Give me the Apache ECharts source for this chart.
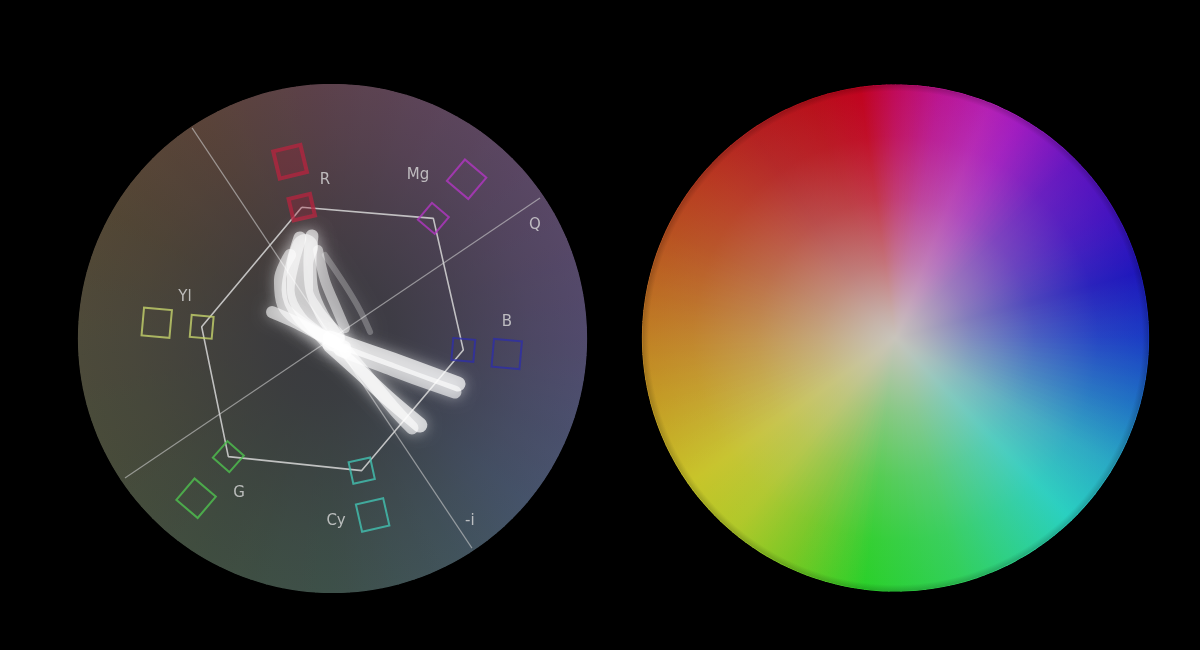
<!DOCTYPE html>
<html>
<head>
<meta charset="utf-8">
<script src="https://cdn.jsdelivr.net/npm/echarts@6/dist/echarts.min.js"></script>
<style>
html,body{margin:0;padding:0;background:#000;}
#chart{width:1200px;height:650px;}
</style>
</head>
<body>
<div id="chart"></div>
<script>
// ---------- DATA (scope units: % of scope radius, x right, y up) ----------
const targetNames   = ['R', 'Mg', 'B', 'Cy', 'G', 'Yl'];
const innerTargets  = [[-12.1, 51.7], [39.7, 47.3], [51.5, -4.5], [11.5, -52.0], [-41.0, -46.5], [-51.5, 4.6]];
const outerTargets  = [[-16.7, 69.6], [52.8, 62.7], [68.6, -6.1], [15.8, -69.5], [-53.7, -62.9], [-69.2, 6.2]];
const targetColors  = ['#b0253e', '#b236c2', '#2e2ea6', '#42c2b2', '#4fc24f', '#c4d26c'];

const axisQ = [[-81.7, -54.9], [81.7, 55.3]];
const axisI = [[-55.3, 82.9], [54.9, -82.5]];

const labelTexts = ['R', 'Mg', 'Q', 'Yl', 'B', 'G', 'Cy', '-i'];
const labelPos   = [[-3.0, 62.4], [33.7, 64.4], [79.7, 44.7], [-58.1, 16.3], [68.7, 6.5], [-36.8, -60.8], [1.4, -71.7], [54.1, -71.9]];

// trace strands
const traceBand  = [[-10.8, 36.0], [-12.8, 28.9], [-12.8, 19.1], [-8.1, 9.3], [-0.2, 0.2]];
const traceU1    = [[-12.8, 39.6], [-15.6, 30.1], [-17.5, 19.1], [-12.8, 8.1], [-3.0, 0.2], [4.9, -5.3]];
const traceU2    = [[-8.1, 40.4], [-8.9, 30.1], [-8.1, 19.1], [-4.1, 9.3], [2.2, 0.2]];
const traceU3    = [[-16.7, 32.9], [-20.7, 23.0], [-19.5, 13.2], [-10.8, 5.3], [1.0, -1.4]];
const traceU4    = [[-5.7, 34.8], [-3.0, 23.0], [1.0, 13.2], [4.9, 4.1]];
const traceFaint = [[-3.0, 32.9], [4.9, 21.1], [10.8, 11.2], [14.8, 2.6]];
const traceLeft  = [[-23.8, 10.4], [-14.8, 6.5], [-4.9, 1.4], [4.9, -3.3]];
const traceR1    = [[-1.0, 0.2], [14.8, -5.3], [32.5, -11.6], [49.4, -17.9]];
const traceR2    = [[3.0, -4.5], [18.7, -10.4], [34.4, -16.3], [48.2, -21.1]];
const traceL1    = [[-1.0, -2.6], [10.8, -13.2], [22.6, -24.2], [34.4, -34.1]];
const traceL2    = [[4.9, -4.5], [14.8, -16.3], [24.6, -28.1], [31.3, -35.2]];

// rim colours of the scope background (angle in degrees, CCW from right)
const scopeStopAngles = [0, 20, 45, 70, 95, 120, 150, 180, 210, 240, 270, 300, 320, 345, 360];
const scopeStopColors = ['#514a6c', '#564868', '#5a4662', '#5c4458', '#5c4149', '#5a4339', '#534634', '#4d4a3a', '#474b3a', '#3f4d40', '#3d5049', '#41535c', '#45536a', '#4c4e6d', '#514a6c'];

// rim colours of the colour wheel
const wheelStopAngles = [0, 15, 30, 45, 60, 68, 80, 90, 98, 110, 125, 140, 155, 170, 180, 195, 215, 230, 245, 263, 285, 300, 314, 330, 345, 360];
const wheelStopColors = ['#1a3cc4', '#1e16bc', '#4412c0', '#6414c0', '#a01ac0', '#b420b4', '#ba1490', '#c00a5a', '#c0021e', '#b8101a', '#b42020', '#b83820', '#b85020', '#bc6c22', '#c08024', '#c49c24', '#c8c428', '#b0c828', '#78c822', '#2ad02a', '#30d05a', '#2cd090', '#28d0c0', '#28a8c4', '#1e70c4', '#1a3cc4'];

// ---------- LAYOUT ----------
const SCOPE = {cx: 332.5, cy: 338.5, r: 254};
const WHEEL = {cx: 895.5, cy: 338, r: 253};
const SUB = 8; // gradient sub-sectors per colour interval (smooth sweep)

function hex(c) { return [1, 3, 5].map(k => parseInt(c.substr(k, 2), 16)); }
function mixCol(c0, c1, t) {
  const a = hex(c0), b = hex(c1);
  return 'rgb(' + a.map((v, k) => Math.round(v + (b[k] - v) * t)).join(',') + ')';
}
function rimSlices(angles, colors, c, border) {
  const out = [];
  for (let i = 0; i < angles.length - 1; i++) {
    const span = angles[i + 1] - angles[i];
    for (let j = 0; j < SUB; j++) {
      const t0 = j / SUB, t1 = (j + 1) / SUB;
      const a0 = (angles[i] + span * t0) * Math.PI / 180, a1 = (angles[i] + span * t1) * Math.PI / 180;
      const g = {
        type: 'linear', global: true,
        x: c.cx + c.r * Math.cos(a0), y: c.cy - c.r * Math.sin(a0),
        x2: c.cx + c.r * Math.cos(a1), y2: c.cy - c.r * Math.sin(a1),
        colorStops: [{offset: 0, color: mixCol(colors[i], colors[i + 1], t0)}, {offset: 1, color: mixCol(colors[i], colors[i + 1], t1)}]
      };
      out.push({value: span / SUB, itemStyle: border ? {color: g, borderColor: g, borderWidth: 1.2} : {color: g, borderWidth: 0}});
    }
  }
  return out;
}
function basePie(c, data, z, start) {
  return {
    type: 'pie', center: [c.cx, c.cy], radius: [0, c.r], clockwise: false,
    startAngle: start || 0, silent: true, animation: false, z: z,
    label: {show: false}, labelLine: {show: false}, emphasis: {disabled: true},
    data: data
  };
}
function radialPie(c, stops, z) {
  return basePie(c, [{value: 1, itemStyle: {color: {type: 'radial', global: true, x: c.cx, y: c.cy, r: c.r, colorStops: stops}, borderWidth: 0}}], z);
}

function traceSeries(pts, w, a, blur) {
  return {type: 'line', data: pts, smooth: 0.35, showSymbol: false, silent: true, z: 8, animation: false,
    lineStyle: {color: 'rgba(255,255,255,' + a + ')', width: w, cap: 'round', join: 'round', shadowBlur: blur || 14, shadowColor: 'rgba(255,255,255,0.6)'}};
}

const chart = echarts.init(document.getElementById('chart'));
chart.setOption({
  backgroundColor: '#000',
  animation: false,
  grid: {left: SCOPE.cx - SCOPE.r, top: SCOPE.cy - SCOPE.r, width: 2 * SCOPE.r, height: 2 * SCOPE.r},
  xAxis: {type: 'value', min: -100, max: 100, show: false},
  yAxis: {type: 'value', min: -100, max: 100, show: false},
  series: [
    // scope background: bordered copy underneath fills the sector seams
    basePie(SCOPE, rimSlices(scopeStopAngles, scopeStopColors, SCOPE, true), 1, scopeStopAngles[0]),
    basePie(SCOPE, rimSlices(scopeStopAngles, scopeStopColors, SCOPE, false), 1, scopeStopAngles[0]),
    radialPie(SCOPE, [
      {offset: 0, color: 'rgba(58,58,63,1)'}, {offset: 0.25, color: 'rgba(58,58,63,0.85)'},
      {offset: 0.5, color: 'rgba(58,58,63,0.55)'}, {offset: 0.78, color: 'rgba(58,58,63,0.2)'},
      {offset: 1, color: 'rgba(58,58,63,0)'}], 2),
    // colour wheel
    basePie(WHEEL, rimSlices(wheelStopAngles, wheelStopColors, WHEEL, true), 1, wheelStopAngles[0]),
    basePie(WHEEL, rimSlices(wheelStopAngles, wheelStopColors, WHEEL, false), 1, wheelStopAngles[0]),
    radialPie(WHEEL, [
      {offset: 0, color: 'rgba(200,196,188,1)'}, {offset: 0.1, color: 'rgba(200,196,188,0.88)'},
      {offset: 0.3, color: 'rgba(200,196,188,0.58)'}, {offset: 0.55, color: 'rgba(200,196,188,0.28)'},
      {offset: 0.8, color: 'rgba(200,196,188,0.07)'}, {offset: 1, color: 'rgba(200,196,188,0)'}], 2),
    radialPie(WHEEL, [{offset: 0, color: 'rgba(0,0,0,0)'}, {offset: 0.975, color: 'rgba(0,0,0,0)'}, {offset: 1, color: 'rgba(0,0,0,0.18)'}], 3),
    // I / Q axes
    {type: 'line', data: axisQ, showSymbol: false, silent: true, z: 4, lineStyle: {color: 'rgba(205,205,205,0.6)', width: 1.2}},
    {type: 'line', data: axisI, showSymbol: false, silent: true, z: 4, lineStyle: {color: 'rgba(205,205,205,0.6)', width: 1.2}},
    // graticule
    {type: 'line', data: innerTargets.concat([innerTargets[0]]), showSymbol: false, silent: true, z: 5,
      lineStyle: {color: 'rgba(215,215,215,0.85)', width: 1.6}},
    // target boxes
    {type: 'scatter', symbol: 'rect', symbolSize: 22, silent: true, z: 6,
      data: innerTargets.map((p, i) => ({value: p, name: targetNames[i],
        symbolRotate: Math.atan2(p[1], p[0]) * 180 / Math.PI,
        itemStyle: {color: i === 0 ? 'rgba(170,30,55,0.35)' : 'rgba(0,0,0,0)', borderColor: targetColors[i], borderWidth: i === 0 ? 4 : 2}}))},
    {type: 'scatter', symbol: 'rect', symbolSize: 28, silent: true, z: 6,
      data: outerTargets.map((p, i) => ({value: p, name: targetNames[i],
        symbolRotate: Math.atan2(p[1], p[0]) * 180 / Math.PI,
        itemStyle: {color: i === 0 ? 'rgba(170,30,55,0.3)' : 'rgba(0,0,0,0)', borderColor: targetColors[i], borderWidth: i === 0 ? 4 : 2}}))},
    // trace
    traceSeries(traceBand, 26, 0.55, 18),
    traceSeries(traceU1, 13, 0.6),
    traceSeries(traceU2, 13, 0.6),
    traceSeries(traceU3, 12, 0.55),
    traceSeries(traceU4, 10, 0.5),
    traceSeries(traceFaint, 6, 0.25),
    traceSeries(traceLeft, 12, 0.6),
    traceSeries(traceR1, 15, 0.7),
    traceSeries(traceR2, 13, 0.6),
    traceSeries(traceL1, 15, 0.7),
    traceSeries(traceL2, 13, 0.6),
    // labels
    {type: 'scatter', symbolSize: 1, silent: true, z: 9, itemStyle: {color: 'rgba(0,0,0,0)'},
      data: labelTexts.map((t, i) => ({name: t, value: labelPos[i]})),
      label: {show: true, position: 'inside', formatter: '{b}', color: '#dadada', fontSize: 15, fontFamily: 'DejaVu Sans'}}
  ]
});
</script>
</body>
</html>
